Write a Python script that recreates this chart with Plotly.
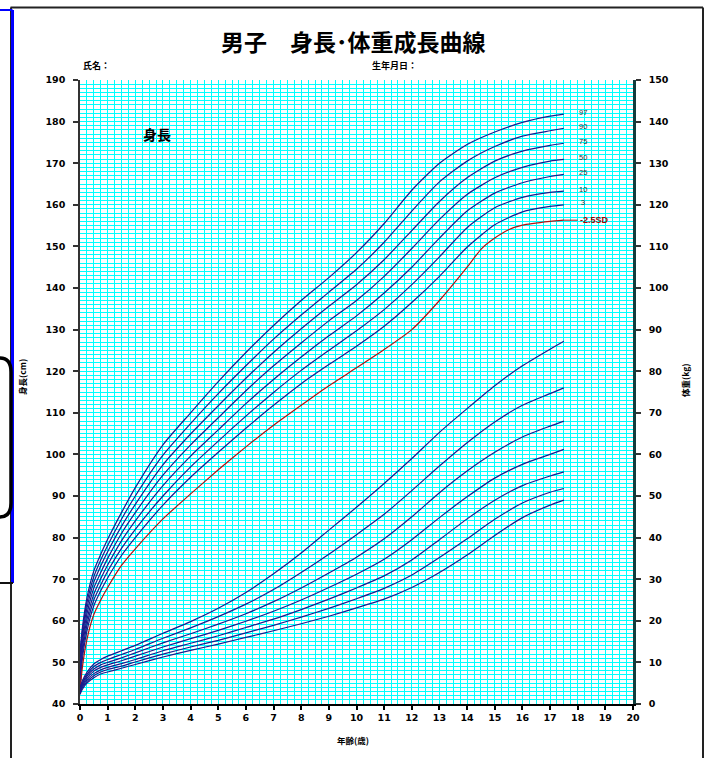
import plotly.graph_objects as go

# ---------------- data ----------------
ages = [0, 0.08, 0.25, 0.5, 0.75, 1, 1.5, 2, 3, 4, 5, 6, 7, 8, 9, 10, 11, 12, 13, 14, 15, 16, 17, 17.5]
percentile_labels = ["97", "90", "75", "50", "25", "10", "3"]

height_p97 = [52.6, 58.0, 65.5, 72.0, 76.0, 79.6, 86.0, 92.0, 102.3, 110.0, 117.5, 124.5, 131.0, 137.0, 142.5, 148.5, 155.5, 163.5, 170.0, 174.5, 177.5, 179.8, 181.3, 181.8]
height_p90 = [51.7, 57.0, 64.3, 70.6, 74.6, 78.1, 84.4, 90.0, 99.8, 107.4, 114.6, 121.3, 127.7, 133.5, 139.0, 144.5, 151.0, 158.5, 165.5, 170.5, 174.0, 176.5, 177.8, 178.4]
height_p75 = [50.5, 55.8, 63.0, 69.3, 73.2, 76.6, 82.7, 88.0, 97.5, 104.9, 111.7, 118.3, 124.5, 130.2, 135.6, 140.8, 146.8, 153.8, 160.8, 166.5, 170.5, 172.9, 174.3, 174.8]
height_p50 = [49.0, 54.5, 61.6, 67.9, 71.6, 75.0, 81.0, 86.0, 95.0, 102.3, 108.8, 115.3, 121.3, 126.8, 132.1, 137.0, 142.8, 149.5, 156.5, 162.5, 166.5, 169.0, 170.5, 170.9]
height_p25 = [47.4, 53.2, 60.2, 66.4, 70.1, 73.4, 79.2, 84.0, 92.5, 99.6, 105.9, 112.2, 118.0, 123.4, 128.5, 133.3, 138.8, 145.0, 152.0, 158.5, 162.8, 165.3, 166.8, 167.3]
height_p10 = [46.0, 51.9, 58.9, 65.0, 68.6, 71.9, 77.4, 82.0, 90.0, 97.0, 103.2, 109.2, 114.9, 120.2, 125.0, 129.7, 134.8, 140.8, 147.5, 154.5, 159.3, 161.8, 163.0, 163.3]
height_p3 = [44.0, 50.5, 57.5, 63.6, 67.2, 70.3, 75.7, 80.0, 87.8, 94.5, 100.5, 106.3, 111.8, 117.0, 121.6, 126.0, 130.8, 136.5, 142.8, 149.8, 155.2, 158.3, 159.6, 160.0]

ages_sd = [0, 0.08, 0.25, 0.5, 0.75, 1, 1.5, 2, 3, 4, 5, 6, 7, 8, 9, 10, 11, 12, 13, 14, 14.5, 15, 15.5, 16, 17, 17.5]
height_m25sd = [42.8, 48.5, 55.5, 61.5, 65.0, 68.0, 73.3, 77.3, 84.5, 90.5, 96.3, 101.8, 107.0, 111.8, 116.5, 120.8, 125.2, 130.0, 137.0, 145.0, 149.3, 152.0, 154.0, 155.1, 156.0, 156.3]

weight_p97 = [4.0, 5.5, 7.6, 9.6, 10.7, 11.5, 12.8, 14.1, 17.0, 19.8, 23.0, 26.8, 31.3, 36.3, 41.8, 47.3, 53.0, 59.0, 65.3, 71.0, 76.5, 81.3, 85.3, 87.2]
weight_p90 = [3.7, 5.1, 7.1, 9.0, 10.0, 10.7, 11.9, 13.1, 15.8, 18.3, 21.0, 24.0, 27.5, 31.6, 36.0, 40.7, 45.6, 51.3, 57.2, 62.8, 67.8, 71.8, 74.6, 76.0]
weight_p75 = [3.4, 4.8, 6.7, 8.4, 9.4, 10.0, 11.1, 12.3, 14.7, 16.9, 19.2, 21.7, 24.6, 27.9, 31.5, 35.3, 39.7, 45.0, 50.8, 56.0, 60.5, 64.2, 66.8, 68.0]
weight_p50 = [3.1, 4.5, 6.2, 7.9, 8.8, 9.4, 10.4, 11.5, 13.7, 15.7, 17.7, 19.9, 22.3, 25.0, 28.0, 31.2, 34.8, 39.5, 44.8, 49.8, 54.3, 57.6, 60.0, 61.2]
weight_p25 = [2.9, 4.2, 5.8, 7.3, 8.2, 8.8, 9.7, 10.7, 12.8, 14.6, 16.4, 18.4, 20.4, 22.7, 25.2, 27.9, 30.8, 34.6, 39.5, 44.5, 49.0, 52.5, 54.8, 55.8]
weight_p10 = [2.6, 3.9, 5.4, 6.8, 7.7, 8.3, 9.1, 10.1, 12.0, 13.7, 15.3, 17.1, 18.9, 20.9, 23.0, 25.3, 27.8, 31.0, 35.2, 39.7, 44.4, 48.3, 50.9, 51.8]
weight_p3 = [2.3, 3.5, 5.0, 6.3, 7.2, 7.7, 8.6, 9.5, 11.3, 12.9, 14.4, 16.0, 17.6, 19.3, 21.1, 23.1, 25.2, 28.0, 31.6, 35.8, 40.5, 44.8, 47.8, 49.0]

height_series = [height_p97, height_p90, height_p75, height_p50, height_p25, height_p10, height_p3]
weight_series = [weight_p97, weight_p90, weight_p75, weight_p50, weight_p25, weight_p10, weight_p3]

# ---------------- style ----------------
NAVY = "#1a1a8c"
RED = "#b01010"
CYAN = "#00ffff"
NUM_FONT = dict(family="DejaVu Sans", size=9.5, color="black", weight="bold")
JP = "Noto Sans CJK JP"

W, H = 707, 758
L, R, T, B = 80, 74, 80, 54
PW, PH = W - L - R, H - T - B


def px(xp):
    return (xp - L) / PW


def py(yp):
    return (H - B - yp) / PH


fig = go.Figure()

for s in weight_series:
    fig.add_trace(go.Scatter(x=ages, y=s, yaxis="y2", mode="lines",
                             line=dict(color=NAVY, width=1.2, shape="spline", smoothing=0.6),
                             showlegend=False, hoverinfo="skip"))
for s in height_series:
    fig.add_trace(go.Scatter(x=ages, y=s, mode="lines",
                             line=dict(color=NAVY, width=1.2, shape="spline", smoothing=0.6),
                             showlegend=False, hoverinfo="skip"))
fig.add_trace(go.Scatter(x=ages_sd, y=height_m25sd, mode="lines",
                         line=dict(color=RED, width=1.2, shape="spline", smoothing=0.5),
                         showlegend=False, hoverinfo="skip"))
# leader of the -2.5SD label
fig.add_trace(go.Scatter(x=[ages_sd[-1], 18.0], y=[height_m25sd[-1]] * 2, mode="lines",
                         line=dict(color=RED, width=1), showlegend=False, hoverinfo="skip"))

C = dict(xanchor="center", yanchor="middle", showarrow=False)
annotations = []
for lab, s in zip(percentile_labels, height_series):
    annotations.append(dict(x=18.2, y=s[-1], xref="x", yref="y", text=lab, yshift=2,
                            font=dict(family="Liberation Sans", size=7.5, color="#333333"), **C))
annotations.append(dict(x=18.02, y=height_m25sd[-1], xref="x", yref="y", text="-2.5SD",
                        showarrow=False, xanchor="left", yanchor="middle",
                        font=dict(family="Liberation Sans", size=9, color="#a00000", weight="bold")))
annotations.append(dict(x=2.8, y=177, xref="x", yref="y", text="身長",
                        font=dict(family=JP, size=14, color="black", weight="bold"), **C))
annotations += [
    dict(x=px(353), y=py(41), xref="paper", yref="paper", text="男子　身長･体重成長曲線",
         font=dict(family=JP, size=23, color="black", weight="bold"), **C),
    dict(x=px(81), y=py(65), xref="paper", yref="paper", text="氏名：", xanchor="left",
         yanchor="middle", showarrow=False,
         font=dict(family=JP, size=9, color="black", weight="bold")),
    dict(x=px(370), y=py(65), xref="paper", yref="paper", text="生年月日：", xanchor="left",
         yanchor="middle", showarrow=False,
         font=dict(family=JP, size=9, color="black", weight="bold")),
    dict(x=px(22), y=py(377), xref="paper", yref="paper", text="身長(cm)", textangle=-90,
         font=dict(family=JP, size=8.5, color="black", weight="bold"), **C),
    dict(x=px(685), y=py(380), xref="paper", yref="paper", text="体重(kg)", textangle=-90,
         font=dict(family=JP, size=8.5, color="black", weight="bold"), **C),
    dict(x=px(353), y=py(740), xref="paper", yref="paper", text="年齢(歳)",
         font=dict(family=JP, size=8.5, color="black", weight="bold"), **C),
]

shapes = [
    # outer page frame
    dict(type="line", xref="paper", yref="paper", x0=px(10.5), x1=px(703), y0=py(7.5), y1=py(7.5),
         line=dict(color="#222", width=2)),
    dict(type="line", xref="paper", yref="paper", x0=px(703), x1=px(703), y0=py(7.5), y1=py(770),
         line=dict(color="#222", width=2)),
    dict(type="line", xref="paper", yref="paper", x0=px(11), x1=px(11), y0=py(7.5), y1=py(770),
         line=dict(color="#222", width=2)),
    # blue box at the left
    dict(type="line", xref="paper", yref="paper", x0=px(12.5), x1=px(12.5), y0=py(10), y1=py(583),
         line=dict(color="#0000ff", width=3)),
    dict(type="line", xref="paper", yref="paper", x0=px(-2), x1=px(12.5), y0=py(10), y1=py(10),
         line=dict(color="#0000ff", width=2)),
    dict(type="line", xref="paper", yref="paper", x0=px(-2), x1=px(13), y0=py(583), y1=py(583),
         line=dict(color="#111", width=2)),
    # rounded shape
    dict(type="path", xref="paper", yref="paper",
         path=(f"M {px(-4)},{py(358)} L {px(0)},{py(358)} Q {px(11)},{py(358)} {px(11)},{py(372)} "
               f"L {px(11)},{py(503)} Q {px(11)},{py(517)} {px(0)},{py(517)} L {px(-4)},{py(517)}"),
         line=dict(color="black", width=3.5)),
]

fig.update_layout(
    width=W, height=H,
    margin=dict(l=L, r=R, t=T, b=B, pad=0),
    paper_bgcolor="white", plot_bgcolor="white",
    showlegend=False,
    annotations=annotations,
    shapes=shapes,
    xaxis=dict(range=[0, 20], tick0=0, dtick=1,
               showgrid=True, gridcolor=CYAN, gridwidth=1,
               minor=dict(dtick=0.25, tick0=0, showgrid=True, gridcolor=CYAN, gridwidth=1),
               showline=True, linecolor="black", linewidth=1.5,
               ticks="outside", ticklen=4, tickwidth=1.5, tickcolor="black",
               tickfont=NUM_FONT, zeroline=False),
    yaxis=dict(range=[40, 190], tick0=40, dtick=10,
               showgrid=True, gridcolor=CYAN, gridwidth=1,
               minor=dict(dtick=1, tick0=40, showgrid=True, gridcolor=CYAN, gridwidth=1),
               showline=True, linecolor="#333", linewidth=1.5,
               ticks="outside", ticklen=5, tickwidth=1.5, tickcolor="#333",
               tickfont=NUM_FONT, ticklabelstandoff=6, zeroline=False),
    yaxis2=dict(range=[0, 150], tick0=0, dtick=10,
                overlaying="y", side="right", showgrid=False,
                showline=True, linecolor="#123c3c", linewidth=2.5,
                ticks="outside", ticklen=5, tickwidth=1.5, tickcolor="#333",
                tickfont=NUM_FONT, ticklabelstandoff=6, zeroline=False),
)

fig.write_html("out.html", config={"displayModeBar": False},
               post_script="document.body.style.margin='0px';")
